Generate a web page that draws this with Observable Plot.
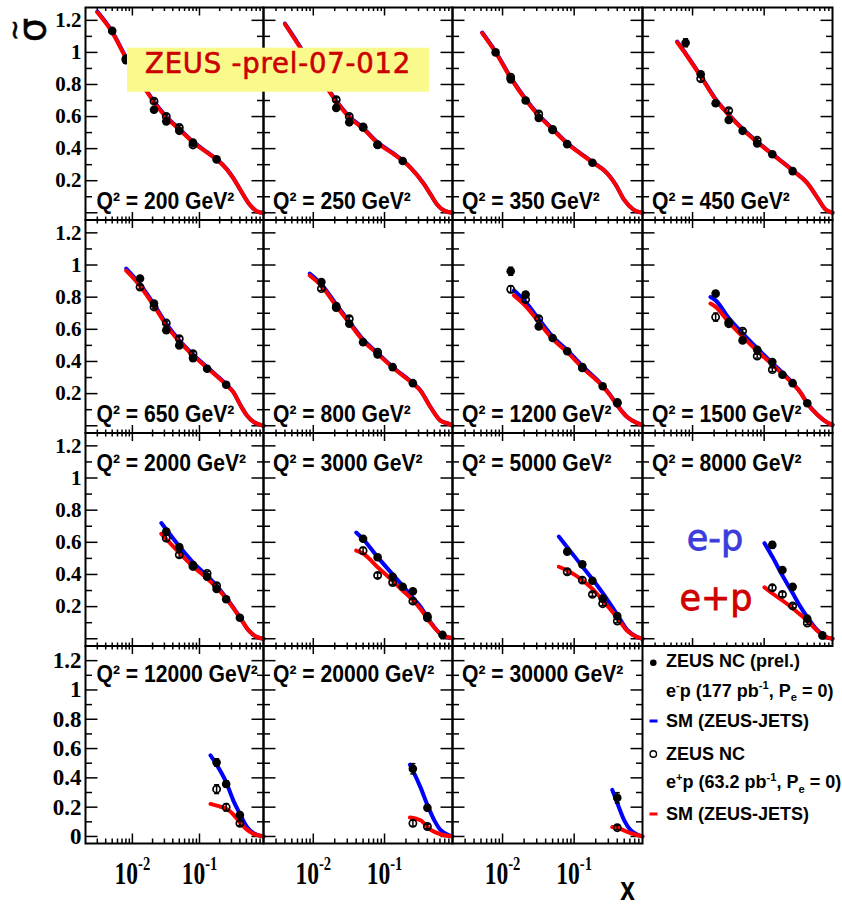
<!DOCTYPE html>
<html><head><meta charset="utf-8">
<script src="https://cdn.jsdelivr.net/npm/d3@7"></script>
<script src="https://cdn.jsdelivr.net/npm/@observablehq/plot@0.6"></script>
<style>
html,body{margin:0;padding:0;background:#fff;}
#chart{position:relative;width:842px;height:906px;overflow:hidden;background:#fff;}
#chart svg{position:absolute;left:0;top:0;}
</style></head><body><div id="chart"></div>
<script>
// ---------------- data ----------------
// points: [x, sigma~, error]; curves: [x, sigma~]
const q2Values = [200, 250, 350, 450, 650, 800, 1200, 1500, 2000, 3000, 5000, 8000, 12000, 20000, 30000];

const em200 = [[0.005,1.134,0.012],[0.008,0.952,0.01],[0.013,0.81,0.01],[0.021,0.642,0.01],[0.032,0.57,0.01],[0.05,0.511,0.01],[0.08,0.438,0.01],[0.18,0.333,0.01]];
const ep200 = [[0.008,0.96,0.015],[0.013,0.815,0.012],[0.021,0.696,0.012],[0.032,0.601,0.012],[0.05,0.532,0.012],[0.08,0.423,0.012]];
const smEm200 = [[0.003,1.255],[0.005,1.13],[0.008,0.97],[0.013,0.825],[0.021,0.695],[0.032,0.6],[0.05,0.524],[0.08,0.444],[0.13,0.378],[0.18,0.335],[0.25,0.277],[0.32,0.216],[0.41,0.14],[0.55,0.055],[0.75,0.006],[0.9,0.0]];
const smEp200 = [[0.003,1.25],[0.005,1.125],[0.008,0.965],[0.013,0.82],[0.021,0.69],[0.032,0.595],[0.05,0.52],[0.08,0.44],[0.13,0.375],[0.18,0.333],[0.25,0.275],[0.32,0.215],[0.41,0.14],[0.55,0.055],[0.75,0.006],[0.9,0.0]];

const em250 = [[0.008,0.95,0.01],[0.013,0.82,0.01],[0.021,0.654,0.01],[0.032,0.564,0.01],[0.05,0.532,0.01],[0.08,0.423,0.01],[0.18,0.323,0.01]];
const ep250 = [[0.013,0.81,0.012],[0.021,0.705,0.012],[0.032,0.601,0.012],[0.05,0.535,0.012],[0.08,0.425,0.012]];
const smEm250 = [[0.004,1.18],[0.005,1.115],[0.008,0.975],[0.013,0.834],[0.021,0.699],[0.032,0.6],[0.05,0.529],[0.08,0.439],[0.13,0.373],[0.18,0.327],[0.232,0.282],[0.356,0.181],[0.45,0.11],[0.55,0.05],[0.7,0.012],[0.9,0.0]];
const smEp250 = [[0.004,1.176],[0.005,1.11],[0.008,0.97],[0.013,0.83],[0.021,0.695],[0.032,0.595],[0.05,0.525],[0.08,0.435],[0.13,0.37],[0.18,0.325],[0.232,0.28],[0.356,0.18],[0.45,0.11],[0.55,0.05],[0.7,0.012],[0.9,0.0]];

const em350 = [[0.008,1.0,0.012],[0.013,0.832,0.01],[0.021,0.70,0.01],[0.032,0.591,0.01],[0.05,0.516,0.01],[0.08,0.428,0.01],[0.18,0.312,0.01]];
const ep350 = [[0.013,0.845,0.012],[0.032,0.616,0.012],[0.05,0.52,0.012]];
const smEm350 = [[0.0052,1.124],[0.008,1.004],[0.013,0.844],[0.021,0.709],[0.032,0.609],[0.05,0.524],[0.08,0.435],[0.13,0.362],[0.18,0.317],[0.29,0.246],[0.38,0.176],[0.5,0.08],[0.68,0.018],[0.9,0.0]];
const smEp350 = [[0.0052,1.12],[0.008,1.0],[0.013,0.84],[0.021,0.705],[0.032,0.605],[0.05,0.52],[0.08,0.432],[0.13,0.36],[0.18,0.315],[0.29,0.245],[0.38,0.175],[0.5,0.08],[0.68,0.018],[0.9,0.0]];

const em450 = [[0.008,1.06,0.025],[0.013,0.864,0.012],[0.021,0.683,0.01],[0.032,0.579,0.01],[0.05,0.511,0.01],[0.08,0.432,0.01],[0.13,0.365,0.01],[0.25,0.26,0.01]];
const ep450 = [[0.013,0.836,0.015],[0.032,0.637,0.012],[0.08,0.452,0.012]];
const smEm450 = [[0.0061,1.067],[0.008,0.994],[0.013,0.854],[0.021,0.709],[0.032,0.614],[0.05,0.524],[0.08,0.443],[0.13,0.367],[0.18,0.317],[0.255,0.262],[0.40,0.186],[0.55,0.096],[0.72,0.02],[0.9,0.0]];
const smEp450 = [[0.0061,1.063],[0.008,0.99],[0.013,0.85],[0.021,0.705],[0.032,0.61],[0.05,0.52],[0.08,0.44],[0.13,0.365],[0.18,0.315],[0.255,0.26],[0.40,0.185],[0.55,0.096],[0.72,0.02],[0.9,0.0]];

const em650 = [[0.013,0.916,0.012],[0.021,0.76,0.01],[0.032,0.594,0.01],[0.05,0.50,0.01],[0.08,0.421,0.01],[0.13,0.355,0.01],[0.25,0.255,0.01]];
const ep650 = [[0.013,0.863,0.012],[0.021,0.739,0.012],[0.032,0.639,0.012],[0.05,0.542,0.012],[0.08,0.448,0.012]];
const smEm650 = [[0.0081,0.978],[0.013,0.88],[0.021,0.755],[0.032,0.635],[0.05,0.532],[0.08,0.444],[0.13,0.365],[0.18,0.313],[0.25,0.258],[0.32,0.21],[0.41,0.127],[0.51,0.064],[0.65,0.022],[0.9,0.0]];
const smEp650 = [[0.0081,0.965],[0.013,0.87],[0.021,0.745],[0.032,0.625],[0.05,0.525],[0.08,0.438],[0.13,0.36],[0.18,0.31],[0.25,0.255],[0.32,0.209],[0.41,0.126],[0.51,0.064],[0.65,0.022],[0.9,0.0]];

const em800 = [[0.013,0.894,0.012],[0.021,0.745,0.01],[0.032,0.635,0.01],[0.05,0.52,0.01],[0.08,0.443,0.01],[0.13,0.365,0.01],[0.25,0.265,0.01]];
const ep800 = [[0.013,0.853,0.012],[0.021,0.735,0.012],[0.032,0.666,0.012],[0.08,0.458,0.012]];
const smEm800 = [[0.0089,0.947],[0.013,0.88],[0.021,0.755],[0.032,0.648],[0.05,0.537],[0.08,0.452],[0.13,0.366],[0.25,0.265],[0.32,0.22],[0.44,0.118],[0.61,0.032],[0.84,0.008],[0.9,0.0]];
const smEp800 = [[0.0089,0.935],[0.013,0.87],[0.021,0.745],[0.032,0.64],[0.05,0.53],[0.08,0.447],[0.13,0.362],[0.25,0.262],[0.32,0.218],[0.44,0.117],[0.61,0.032],[0.84,0.008],[0.9,0.0]];

const em1200 = [[0.013,0.961,0.025],[0.021,0.816,0.012],[0.032,0.618,0.01],[0.05,0.546,0.01],[0.08,0.464,0.01],[0.13,0.365,0.01],[0.25,0.246,0.01],[0.4,0.14,0.01]];
const ep1200 = [[0.013,0.849,0.02],[0.021,0.785,0.015],[0.032,0.666,0.012],[0.13,0.36,0.012],[0.4,0.145,0.012]];
const smEm1200 = [[0.0144,0.843],[0.021,0.77],[0.032,0.665],[0.05,0.555],[0.08,0.47],[0.13,0.372],[0.25,0.25],[0.32,0.19],[0.4,0.128],[0.55,0.054],[0.76,0.016],[0.9,0.004]];
const smEp1200 = [[0.0144,0.811],[0.021,0.745],[0.032,0.645],[0.05,0.54],[0.08,0.458],[0.13,0.362],[0.25,0.245],[0.32,0.188],[0.4,0.126],[0.55,0.054],[0.76,0.016],[0.9,0.004]];

const em1500 = [[0.021,0.822,0.015],[0.032,0.645,0.012],[0.05,0.531,0.01],[0.08,0.473,0.01],[0.13,0.396,0.01],[0.18,0.317,0.01],[0.25,0.265,0.01],[0.4,0.14,0.01]];
const ep1500 = [[0.021,0.676,0.025],[0.032,0.635,0.015],[0.05,0.589,0.012],[0.08,0.433,0.012],[0.13,0.349,0.012]];
const smEm1500 = [[0.0178,0.801],[0.021,0.78],[0.032,0.67],[0.05,0.575],[0.08,0.482],[0.13,0.39],[0.18,0.33],[0.25,0.265],[0.32,0.209],[0.4,0.14],[0.55,0.07],[0.76,0.02],[0.9,0.005]];
const smEp1500 = [[0.0178,0.76],[0.021,0.74],[0.032,0.645],[0.05,0.555],[0.08,0.465],[0.13,0.38],[0.18,0.322],[0.25,0.262],[0.32,0.207],[0.4,0.138],[0.55,0.07],[0.76,0.02],[0.9,0.005]];

const em2000 = [[0.032,0.667,0.015],[0.05,0.57,0.012],[0.08,0.459,0.01],[0.13,0.386,0.01],[0.18,0.31,0.01],[0.25,0.246,0.01],[0.4,0.131,0.01]];
const ep2000 = [[0.032,0.626,0.02],[0.05,0.522,0.015],[0.08,0.45,0.012],[0.13,0.407,0.012],[0.18,0.33,0.012]];
const smEm2000 = [[0.027,0.72],[0.05,0.575],[0.08,0.475],[0.13,0.39],[0.18,0.33],[0.25,0.255],[0.4,0.135],[0.54,0.052],[0.72,0.01],[0.9,0.0]];
const smEp2000 = [[0.027,0.653],[0.05,0.535],[0.08,0.45],[0.13,0.375],[0.18,0.318],[0.25,0.25],[0.4,0.132],[0.54,0.052],[0.72,0.01],[0.9,0.0]];

const em3000 = [[0.05,0.622,0.015],[0.08,0.507,0.012],[0.13,0.386,0.012],[0.18,0.324,0.012],[0.25,0.296,0.012],[0.4,0.142,0.01],[0.65,0.025,0.005]];
const ep3000 = [[0.05,0.548,0.02],[0.08,0.394,0.015],[0.13,0.35,0.012],[0.25,0.234,0.012],[0.4,0.13,0.012]];
const smEm3000 = [[0.04,0.661],[0.05,0.62],[0.08,0.508],[0.13,0.401],[0.18,0.329],[0.25,0.256],[0.32,0.2],[0.44,0.105],[0.61,0.031],[0.9,0.003]];
const smEp3000 = [[0.04,0.548],[0.05,0.53],[0.08,0.445],[0.13,0.36],[0.18,0.3],[0.25,0.24],[0.32,0.185],[0.44,0.1],[0.61,0.03],[0.9,0.003]];

const em5000 = [[0.08,0.542,0.015],[0.13,0.463,0.012],[0.18,0.361,0.012],[0.25,0.25,0.012],[0.4,0.142,0.01]];
const ep5000 = [[0.08,0.417,0.015],[0.13,0.365,0.015],[0.18,0.276,0.012],[0.25,0.218,0.012],[0.4,0.11,0.01]];
const smEm5000 = [[0.061,0.636],[0.08,0.57],[0.13,0.45],[0.18,0.37],[0.25,0.285],[0.4,0.15],[0.55,0.055],[0.76,0.01],[0.9,0.0]];
const smEp5000 = [[0.061,0.448],[0.08,0.425],[0.13,0.365],[0.18,0.31],[0.25,0.24],[0.4,0.13],[0.55,0.05],[0.76,0.01],[0.9,0.0]];

const em8000 = [[0.13,0.584,0.02],[0.18,0.428,0.015],[0.25,0.323,0.015],[0.4,0.125,0.012],[0.65,0.021,0.005]];
const ep8000 = [[0.13,0.317,0.015],[0.18,0.276,0.015],[0.25,0.204,0.012],[0.4,0.098,0.01]];
const smEm8000 = [[0.101,0.595],[0.132,0.505],[0.18,0.393],[0.25,0.284],[0.32,0.2],[0.40,0.135],[0.55,0.055],[0.7,0.015],[0.9,0.0]];
const smEp8000 = [[0.101,0.32],[0.132,0.28],[0.18,0.238],[0.25,0.19],[0.32,0.15],[0.40,0.114],[0.55,0.05],[0.7,0.015],[0.9,0.0]];

const em12000 = [[0.18,0.505,0.025],[0.25,0.358,0.022],[0.4,0.147,0.018]];
const ep12000 = [[0.18,0.323,0.03],[0.25,0.199,0.025],[0.4,0.09,0.015]];
const smEm12000 = [[0.146,0.553],[0.18,0.49],[0.25,0.37],[0.32,0.245],[0.4,0.155],[0.51,0.065],[0.65,0.02],[0.81,0.005],[0.9,0.0]];
const smEp12000 = [[0.146,0.222],[0.18,0.21],[0.25,0.19],[0.32,0.15],[0.4,0.096],[0.5,0.05],[0.64,0.018],[0.9,0.0]];

const em20000 = [[0.25,0.462,0.035],[0.4,0.196,0.02]];
const ep20000 = [[0.25,0.09,0.02],[0.4,0.068,0.015]];
const smEm20000 = [[0.227,0.49],[0.25,0.45],[0.32,0.335],[0.4,0.215],[0.5,0.11],[0.61,0.045],[0.75,0.015],[0.9,0.0]];
const smEp20000 = [[0.227,0.13],[0.32,0.11],[0.44,0.047],[0.61,0.015],[0.9,0.0]];

const em30000 = [[0.4,0.264,0.035]];
const ep30000 = [[0.4,0.06,0.015]];
const smEm30000 = [[0.34,0.318],[0.41,0.215],[0.5,0.11],[0.61,0.045],[0.75,0.015],[0.9,0.0]];
const smEp30000 = [[0.34,0.064],[0.41,0.058],[0.5,0.04],[0.61,0.022],[0.84,0.004],[0.9,0.0]];

// axis ticks and labels
const xMajorTicks = [0.01, 0.1];
const xMinorTicks = [0.003,0.004,0.005,0.006,0.007,0.008,0.009,0.02,0.03,0.04,0.05,0.06,0.07,0.08,0.09,0.2,0.3,0.4,0.5,0.6,0.7,0.8];
const yMajorTicks = [0, 0.2, 0.4, 0.6, 0.8, 1, 1.2];
const yMinorTicks = [0.1, 0.3, 0.5, 0.7, 0.9, 1.1];
const yTickLabelsUpper = [0.2, 0.4, 0.6, 0.8, 1, 1.2];
const yTickLabelsLower = [0, 0.2, 0.4, 0.6, 0.8, 1, 1.2];
const xTickLabels = ["10^{-2}", "10^{-1}"];
const legendLines = ["ZEUS NC (prel.)", "e^{-}p (177 pb^{-1}, P_{e} = 0)", "SM (ZEUS-JETS)", "ZEUS NC", "e^{+}p (63.2 pb^{-1}, P_{e} = 0)", "SM (ZEUS-JETS)"];

// table built from the arrays above
const panels = [
  [200, em200, ep200, smEm200, smEp200], [250, em250, ep250, smEm250, smEp250],
  [350, em350, ep350, smEm350, smEp350], [450, em450, ep450, smEm450, smEp450],
  [650, em650, ep650, smEm650, smEp650], [800, em800, ep800, smEm800, smEp800],
  [1200, em1200, ep1200, smEm1200, smEp1200], [1500, em1500, ep1500, smEm1500, smEp1500],
  [2000, em2000, ep2000, smEm2000, smEp2000], [3000, em3000, ep3000, smEm3000, smEp3000],
  [5000, em5000, ep5000, smEm5000, smEp5000], [8000, em8000, ep8000, smEm8000, smEp8000],
  [12000, em12000, ep12000, smEm12000, smEp12000], [20000, em20000, ep20000, smEm20000, smEp20000],
  [30000, em30000, ep30000, smEm30000, smEp30000]
];

// ---------------- layout ----------------
const W = 842, H = 906;
const xDomain = [0.002, 0.9];
const yDomainUpper = [-0.045, 1.28];
const yDomainLower = [-0.048, 1.30];
const colEdges = [85, 263, 452, 642, 832];
const rowEdges = [7, 219.5, 432.5, 645.5, 843];
const BLUE = "#0000ff", RED = "#ff0000";

const tickSym = (dx, dy) => ({draw(ctx, size) { const l = Math.sqrt(size / Math.PI); ctx.moveTo(0, 0); ctx.lineTo(dx * l, dy * l); }});
const capSym = {draw(ctx, size) { const l = Math.sqrt(size / Math.PI); ctx.moveTo(-l, 0); ctx.lineTo(l, 0); }};

const NS = "http://www.w3.org/2000/svg";
function richText(el, fs) {
  const s = el.textContent;
  if (!/[\^_]\{/.test(s)) return;
  while (el.firstChild) el.removeChild(el.firstChild);
  const re = /([\^_])\{([^}]*)\}/g;
  let last = 0, cur = 0, m;
  const add = (txt, off, size) => {
    if (!txt) return;
    const t = document.createElementNS(NS, "tspan");
    t.setAttribute("dy", (off - cur).toFixed(2));
    if (size) t.setAttribute("font-size", size.toFixed(1));
    t.textContent = txt;
    el.appendChild(t);
    cur = off;
  };
  while ((m = re.exec(s))) {
    add(s.slice(last, m.index), 0);
    if (m[1] === "^") add(m[2], -0.42 * fs, 0.62 * fs);
    else add(m[2], 0.25 * fs, 0.62 * fs);
    last = re.lastIndex;
  }
  add(s.slice(last), 0);
}
function squeezeText(t, sx) {
  t.setAttribute("transform", (t.getAttribute("transform") || "") + ` scale(${sx},1)`);
}

const chart = document.getElementById("chart");

panels.forEach((p, i) => {
  const r = Math.floor(i / 4), c = i % 4;
  const [q2, em, ep, smEm, smEp] = p;
  const yDom = r === 3 ? yDomainLower : yDomainUpper;
  const [xmin, xmax] = xDomain, [ymin, ymax] = yDom;
  const xt = r === 3 ? [10, 5] : [8, 3.5];
  const tk = {stroke: "#000", strokeWidth: 1.5, fill: "none"};
  const caps = d => [[d[0], d[1] - d[2]], [d[0], d[1] + d[2]]];
  const marks = [
    // ticks on all four sides, pointing inwards
    Plot.dot(xMajorTicks, {x: d => d, y: () => ymin, symbol: tickSym(0, -1), r: xt[0], ...tk}),
    Plot.dot(xMinorTicks, {x: d => d, y: () => ymin, symbol: tickSym(0, -1), r: xt[1], ...tk}),
    Plot.dot(xMajorTicks, {x: d => d, y: () => ymax, symbol: tickSym(0, 1), r: 8, ...tk}),
    Plot.dot(xMinorTicks, {x: d => d, y: () => ymax, symbol: tickSym(0, 1), r: 3.5, ...tk}),
    Plot.dot(yMajorTicks, {x: () => xmin, y: d => d, symbol: tickSym(1, 0), r: 12, ...tk}),
    Plot.dot(yMinorTicks, {x: () => xmin, y: d => d, symbol: tickSym(1, 0), r: 6.5, ...tk}),
    Plot.dot(yMajorTicks, {x: () => xmax, y: d => d, symbol: tickSym(-1, 0), r: 12, ...tk}),
    Plot.dot(yMinorTicks, {x: () => xmax, y: d => d, symbol: tickSym(-1, 0), r: 6.5, ...tk}),
    // Standard Model curves
    Plot.line(smEm, {x: d => d[0], y: d => d[1], stroke: BLUE, strokeWidth: 4, curve: "monotone-x"}),
    Plot.line(smEp, {x: d => d[0], y: d => d[1], stroke: RED, strokeWidth: 4, curve: "monotone-x"}),
    // error bars
    Plot.ruleX(em, {x: d => d[0], y1: d => d[1] - d[2], y2: d => d[1] + d[2], stroke: "#000", strokeWidth: 1.5}),
    Plot.ruleX(ep, {x: d => d[0], y1: d => d[1] - d[2], y2: d => d[1] + d[2], stroke: "#000", strokeWidth: 1.5}),
    Plot.dot(em.flatMap(caps), {x: d => d[0], y: d => d[1], symbol: capSym, r: 2.5, stroke: "#000", strokeWidth: 1.5, fill: "none"}),
    Plot.dot(ep.flatMap(caps), {x: d => d[0], y: d => d[1], symbol: capSym, r: 2.5, stroke: "#000", strokeWidth: 1.5, fill: "none"}),
    // data points
    Plot.dot(ep, {x: d => d[0], y: d => d[1], r: 3.6, fill: "none", stroke: "#000", strokeWidth: 1.7}),
    Plot.dot(em, {x: d => d[0], y: d => d[1], r: 4.3, fill: "#000", stroke: "none"}),
    Plot.frame({stroke: "#000", strokeWidth: 2}),
    // panel label
    Plot.text([`Q² = ${q2} GeV²`], {
      text: d => d, frameAnchor: r < 2 ? "bottom-left" : "top-left",
      dx: c === 0 ? 11 : 9.5, dy: r < 2 ? -11 : (r === 3 ? 36 : 37.5), lineAnchor: "bottom", textAnchor: "start",
      fontFamily: "Liberation Sans, Arial, sans-serif", fontWeight: "bold", fontSize: 24, fill: "#000"
    })
  ];
  if (c === 0) {
    marks.push(Plot.text(r === 3 ? yTickLabelsLower : yTickLabelsUpper, {
      x: () => xmin, y: d => d, text: d => String(d), textAnchor: "end", dx: -4,
      fontFamily: "Liberation Serif, Times New Roman, serif", fontWeight: "bold", fontSize: r === 3 ? 23 : 21, fill: "#000"
    }));
  }
  if (r === 3) {
    marks.push(Plot.text(xMajorTicks, {
      x: d => d, y: () => ymin, text: (d, k) => xTickLabels[k], textAnchor: "middle", lineAnchor: "bottom", dy: 40,
      fontFamily: "Liberation Serif, Times New Roman, serif", fontWeight: "bold", fontSize: 31, fill: "#000"
    }));
  }
  const svg = Plot.plot({
    width: W, height: H,
    marginLeft: colEdges[c], marginRight: W - colEdges[c + 1],
    marginTop: rowEdges[r], marginBottom: H - rowEdges[r + 1],
    x: {type: "log", domain: xDomain, axis: null},
    y: {domain: yDom, axis: null},
    style: {background: "transparent", overflow: "visible"},
    marks
  });
  svg.querySelectorAll("text").forEach(t => {
    const s = t.textContent;
    if (s.startsWith("Q²")) squeezeText(t, 0.88);
    else if (s.startsWith("10^")) { richText(t, 31); squeezeText(t, 0.76); }
  });
  chart.appendChild(svg);
});

// ---------------- annotations: title box, axis titles, e-p / e+p, legend ----------------
const ov = d3.create("svg").attr("width", W).attr("height", H);
ov.append("rect").attr("x", 127).attr("y", 47.7).attr("width", 302).attr("height", 44).attr("fill", "#fafa8c");
ov.append("text").attr("x", 145).attr("y", 72.7).attr("font-family", "DejaVu Sans, sans-serif").attr("font-size", 27.5)
  .attr("letter-spacing", 0.8).attr("fill", "#cc0000").attr("stroke", "#cc0000").attr("stroke-width", 0.6).text("ZEUS -prel-07-012");
// y-axis title: sigma with tilde, rotated
const yTitle = ov.append("text").attr("transform", "translate(45,30) rotate(-90)").attr("text-anchor", "middle")
  .attr("font-family", "DejaVu Sans, sans-serif").attr("fill", "#000").attr("stroke", "#000").attr("stroke-width", 0.6);
yTitle.append("tspan").attr("font-size", 38).text("σ");
yTitle.append("tspan").attr("font-size", 26).attr("x", 0).attr("dy", -22).text("~");
ov.append("text").attr("transform", "translate(627.5,900) scale(0.8,1)").attr("text-anchor", "middle")
  .attr("font-family", "Liberation Sans, Arial, sans-serif").attr("font-weight", "bold").attr("font-size", 33).attr("fill", "#000").text("x");
ov.append("text").attr("x", 715).attr("y", 550).attr("text-anchor", "middle").attr("font-family", "DejaVu Sans, sans-serif")
  .attr("font-size", 35).attr("fill", "#3c3cdc").attr("stroke", "#3c3cdc").attr("stroke-width", 0.8).text("e-p");
ov.append("text").attr("x", 716).attr("y", 610).attr("text-anchor", "middle").attr("font-family", "DejaVu Sans, sans-serif")
  .attr("font-size", 35).attr("fill", "#d00000").attr("stroke", "#d00000").attr("stroke-width", 0.8).text("e+p");

const legBase = [667.3, 696.7, 727.3, 760, 788.3, 820];
legendLines.forEach((s, k) => {
  const t = ov.append("text").attr("x", 666).attr("y", legBase[k]).attr("font-family", "Liberation Sans, Arial, sans-serif")
    .attr("font-weight", "bold").attr("font-size", 18).attr("fill", "#000").text(s);
  richText(t.node(), 18);
});
ov.append("circle").attr("cx", 653.3).attr("cy", 662.7).attr("r", 3.3).attr("fill", "#000");
ov.append("circle").attr("cx", 653.3).attr("cy", 754).attr("r", 3.2).attr("fill", "none").attr("stroke", "#000").attr("stroke-width", 1.4);
ov.append("line").attr("x1", 649.5).attr("x2", 657.5).attr("y1", 721).attr("y2", 721).attr("stroke", BLUE).attr("stroke-width", 3);
ov.append("line").attr("x1", 649.5).attr("x2", 657.5).attr("y1", 814).attr("y2", 814).attr("stroke", RED).attr("stroke-width", 3);
chart.appendChild(ov.node());
</script></body></html>
